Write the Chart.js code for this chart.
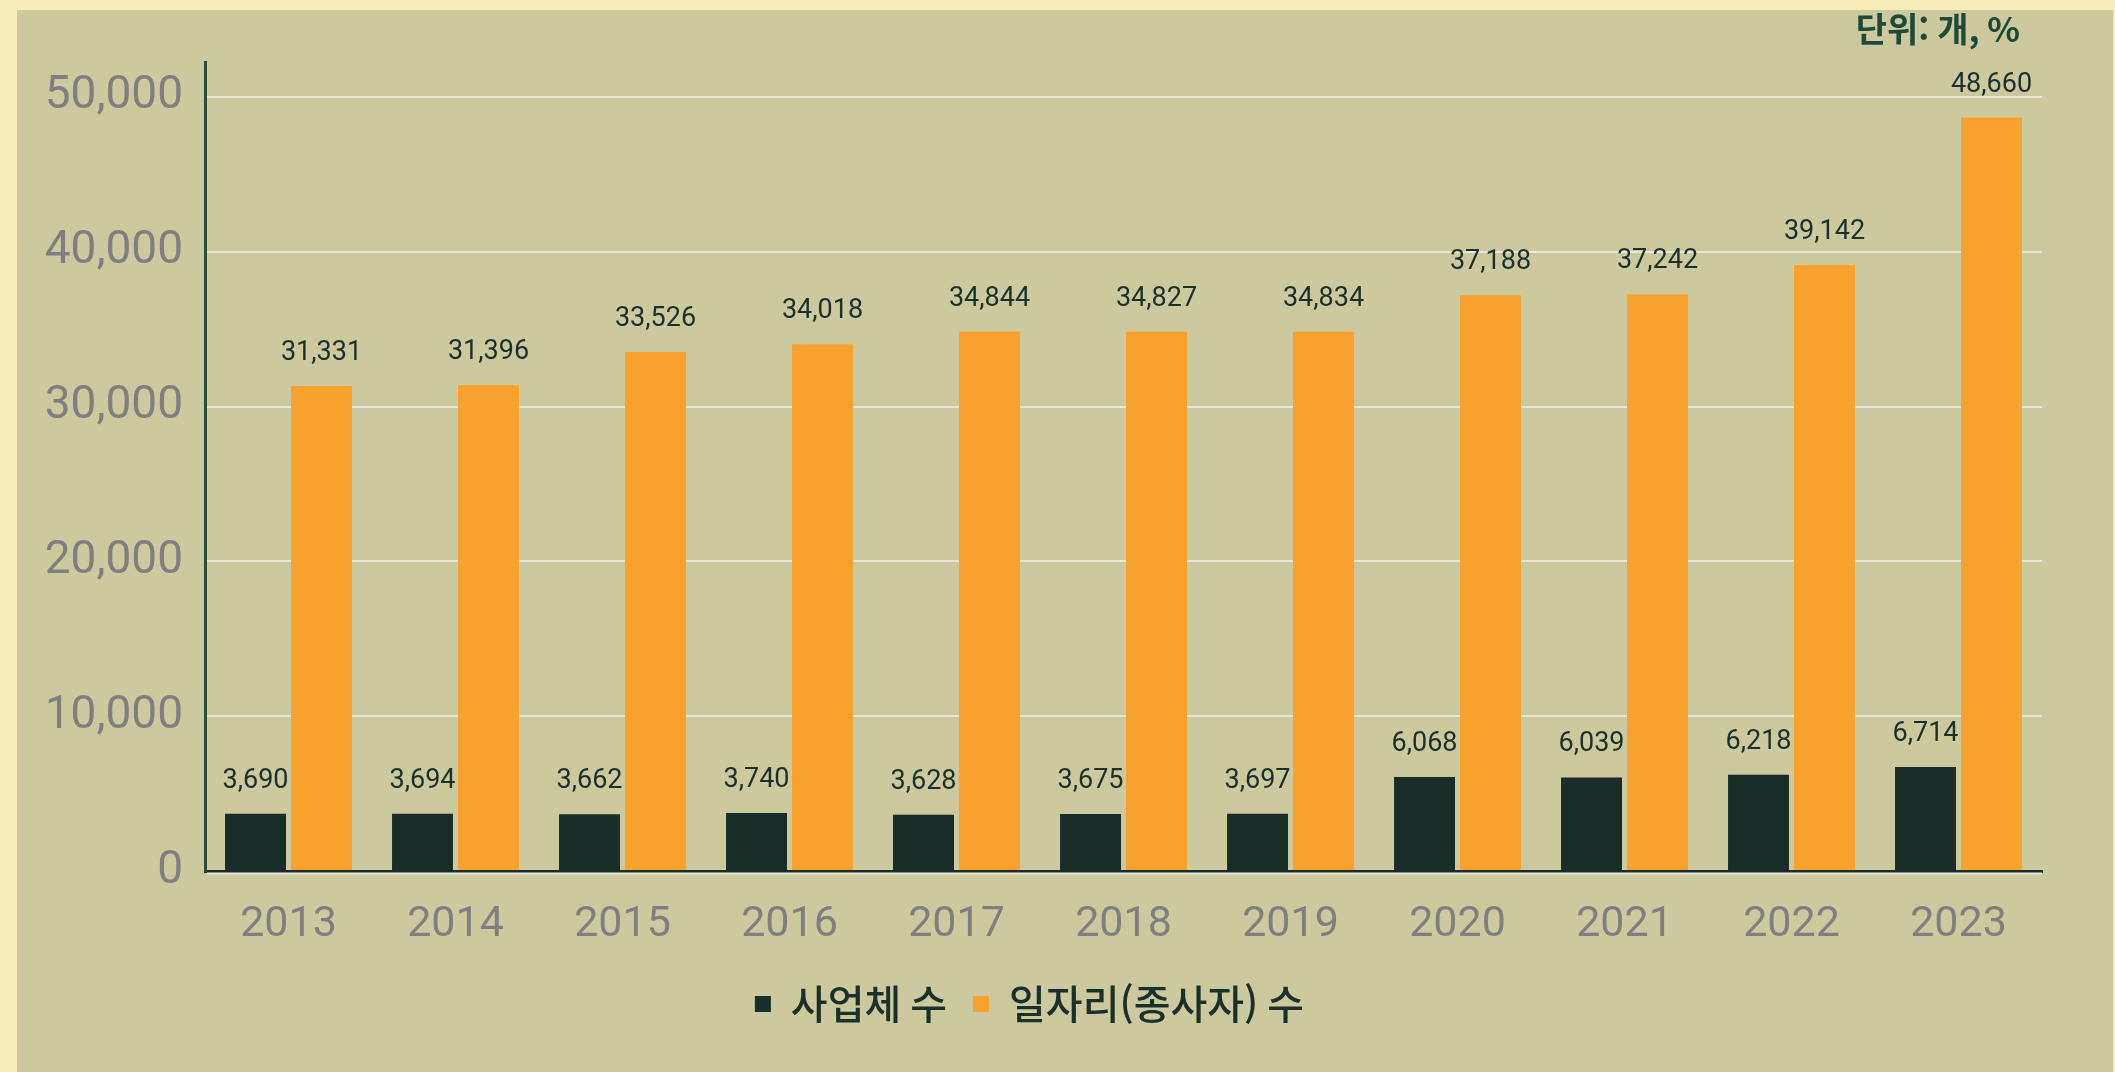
<!DOCTYPE html>
<html lang="ko">
<head>
<meta charset="utf-8">
<title>사업체 수 · 일자리(종사자) 수</title>
<script src="https://cdn.jsdelivr.net/npm/chart.js@4.4.1/dist/chart.umd.min.js"></script>
<style>
    html, body {
        margin: 0;
        padding: 0;
        width: 2115px;
        height: 1072px;
        background: #f8ecb9;
        overflow: hidden;
    }
    #panel {
        position: absolute;
        left: 17px;
        top: 10px;
        width: 2096px;
        height: 1062px;
        background: #cdc99e;
    }
</style>
</head>
<body>
<div id="panel">
    <canvas id="jobsChart"></canvas>
</div>
<script>
// Data
const years = ['2013', '2014', '2015', '2016', '2017', '2018', '2019', '2020', '2021', '2022', '2023'];
const businessCount = [3690, 3694, 3662, 3740, 3628, 3675, 3697, 6068, 6039, 6218, 6714];
const jobCount = [31331, 31396, 33526, 34018, 34844, 34827, 34834, 37188, 37242, 39142, 48660];
const yTicks = [0, 10000, 20000, 30000, 40000, 50000];
const unitText = '단위: 개, %';

// Colours
const colors = {
    business: '#182d27',
    jobs: '#f9a12e',
    axis: '#2a4d3e',
    grid: '#e9e7dd',
    tick: '#7f7f7f',
    label: '#1b3029',
    unit: '#1e4a3a'
};

const numFont = "'Roboto', sans-serif";
const krFont = "'Noto Sans CJK KR', sans-serif";

function fmt(v) {
    return v.toLocaleString('en-US');
}

// value labels above bars, unit text and the light zero line
const barLabels = {
    id: 'barLabels',
    afterDatasetsDraw(chart) {
        const ctx = chart.ctx;
        const area = chart.chartArea;
        const y0 = chart.scales.y.getPixelForValue(0);

        ctx.save();
        ctx.strokeStyle = colors.grid;
        ctx.lineWidth = 2;
        ctx.beginPath();
        ctx.moveTo(area.left + 2, y0 + 2.5);
        ctx.lineTo(area.right, y0 + 2.5);
        ctx.stroke();

        ctx.font = `27px ${numFont}`;
        ctx.fillStyle = colors.label;
        ctx.textAlign = 'center';
        ctx.textBaseline = 'alphabetic';
        chart.data.datasets.forEach((ds, i) => {
            chart.getDatasetMeta(i).data.forEach((bar, j) => {
                ctx.fillText(fmt(ds.data[j]), bar.x, bar.y - 26);
            });
        });

        ctx.font = `bold 34px ${krFont}`;
        ctx.fillStyle = colors.unit;
        ctx.textAlign = 'right';
        ctx.textBaseline = 'middle';
        ctx.fillText(unitText, area.right - 22, 19);
        ctx.restore();
    }
};

const chart = new Chart(document.getElementById('jobsChart'), {
    type: 'bar',
    data: {
        labels: years,
        datasets: [
            {
                label: '사업체 수',
                data: businessCount,
                backgroundColor: colors.business,
                categoryPercentage: 0.79,
                barPercentage: 0.924
            },
            {
                label: '일자리(종사자) 수',
                data: jobCount,
                backgroundColor: colors.jobs,
                categoryPercentage: 0.79,
                barPercentage: 0.924
            }
        ]
    },
    options: {
        responsive: true,
        maintainAspectRatio: false,
        animation: false,
        layout: {
            padding: { top: 52, right: 71, bottom: 38, left: 0 }
        },
        scales: {
            x: {
                grid: { display: false },
                border: { display: true, color: colors.business, width: 3 },
                ticks: {
                    color: colors.tick,
                    font: { family: numFont, size: 43 },
                    padding: 20
                },
                afterFit(scale) {
                    scale.height = 87;
                }
            },
            y: {
                min: 0,
                max: 52250,
                grid: {
                    drawTicks: false,
                    lineWidth: 2,
                    color: ctx => (ctx.tick && ctx.tick.value === 0 ? 'rgba(0,0,0,0)' : colors.grid)
                },
                border: { display: true, color: colors.axis, width: 3 },
                afterBuildTicks(scale) {
                    scale.ticks = yTicks.map(v => ({ value: v }));
                },
                ticks: {
                    color: colors.tick,
                    font: { family: numFont, size: 46 },
                    padding: 22,
                    callback: v => fmt(v)
                },
                afterFit(scale) {
                    scale.width = 188;
                }
            }
        },
        plugins: {
            legend: {
                position: 'bottom',
                labels: {
                    color: colors.label,
                    font: { family: krFont, size: 40, weight: '500' },
                    boxWidth: 16,
                    boxHeight: 16,
                    padding: 26
                }
            },
            tooltip: { enabled: false }
        }
    },
    plugins: [barLabels]
});
</script>
</body>
</html>
